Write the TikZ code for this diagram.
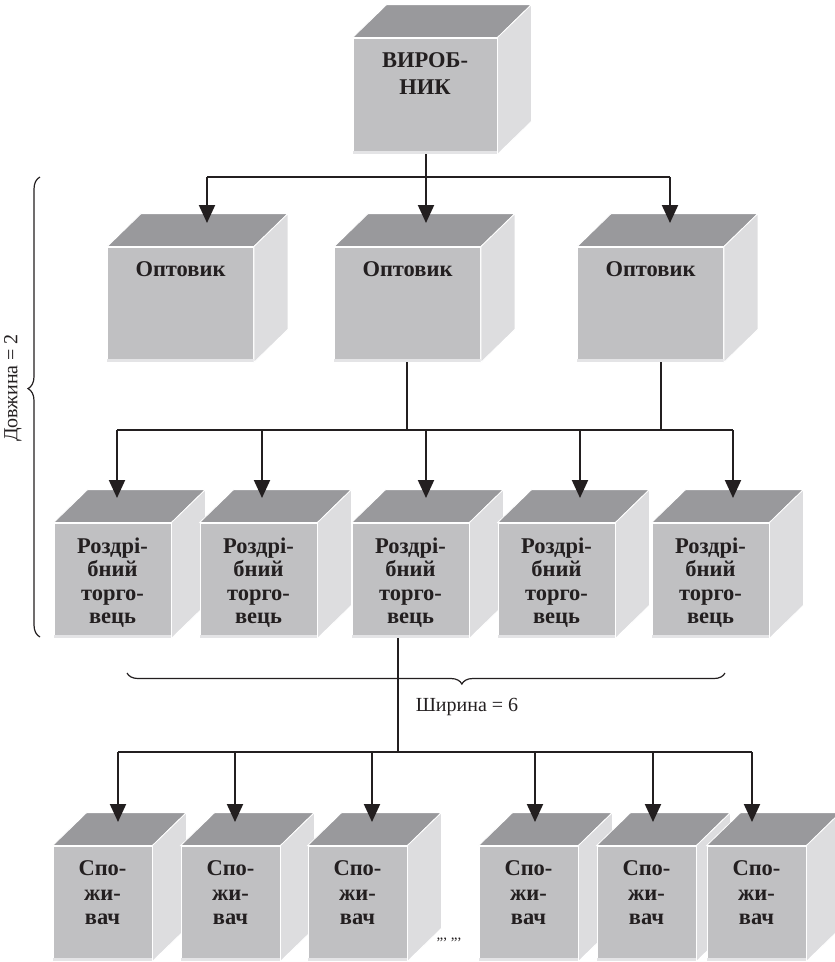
\documentclass[tikz,border=0pt]{standalone}
\usepackage{fontspec}
\setmainfont{Liberation Serif}
\usetikzlibrary{arrows.meta,calc,decorations.pathreplacing}
\definecolor{frontc}{RGB}{192,192,194}
\definecolor{topc}{RGB}{153,153,156}
\definecolor{sidec}{RGB}{221,221,223}
\definecolor{edgec}{RGB}{228,228,230}
\definecolor{inkc}{RGB}{35,31,32}
\tikzset{
  front/.style={rectangle, fill=frontc, draw=white, line width=0.8pt, inner sep=0pt},
  topface/.style={fill=topc, draw=white, line width=0.8pt},
  sideface/.style={fill=sidec, draw=white, line width=0.8pt},
  lbl/.style={font=\fontsize{22.5}{23.5}\selectfont\bfseries, align=center, anchor=north, inner sep=0pt, text=inkc},
  lblc/.style={lbl, font=\fontsize{22.5}{24.5}\selectfont\bfseries},
  lblp/.style={lbl, font=\fontsize{22.5}{27}\selectfont\bfseries},
  arr/.style={draw=inkc, line width=2pt, -{Triangle[length=18pt,width=16pt]}},
  ln/.style={draw=inkc, line width=1.6pt},
  bracestyle/.style={draw=inkc, line width=1.2pt, decorate},
  note/.style={font=\fontsize{20}{24}\selectfont, text=inkc, inner sep=0pt},
  optbox/.style={front, minimum width=146pt, minimum height=115pt},
  retbox/.style={front, minimum width=117pt, minimum height=115pt},
  conbox/.style={front, minimum width=99pt, minimum height=115pt}
}
\newcommand{\cubeparts}[1]{%
  \fill[edgec] ($(#1.south west)+(0,-3)$) rectangle (#1.south east);
  \filldraw[topface] (#1.north west) -- ($(#1.north west)+(34,-33)$) -- ($(#1.north east)+(34,-33)$) -- (#1.north east) -- cycle;
  \filldraw[sideface] (#1.north east) -- ($(#1.north east)+(34,-33)$) -- ($(#1.south east)+(34,-33)$) -- (#1.south east) -- cycle;
}
\begin{document}
\begin{tikzpicture}[x=1pt,y=-1pt]
\useasboundingbox (0,0) rectangle (835,962);

% producer
\node[front, minimum width=144pt, minimum height=116pt] (p) at (425,96) {};
\cubeparts{p}
\node[lblp] (pt) at ($(p.north)+(0,15)$) {ВИРОБ-\\НИК};

% wholesalers
\node[optbox] (o1) at (180.5,304.5) {}; \cubeparts{o1}
\node[optbox] (o2) at (407.5,304.5) {}; \cubeparts{o2}
\node[optbox] (o3) at (650.5,304.5) {}; \cubeparts{o3}
\node[lbl] (o1t) at ($(o1.north)+(0,15)$) {Оптовик};
\node[lbl] (o2t) at ($(o2.north)+(0,15)$) {Оптовик};
\node[lbl] (o3t) at ($(o3.north)+(0,15)$) {Оптовик};

% retailers
\node[retbox] (r1) at (112.5,580.5) {}; \cubeparts{r1}
\node[retbox] (r2) at (258.5,580.5) {}; \cubeparts{r2}
\node[retbox] (r3) at (410.5,580.5) {}; \cubeparts{r3}
\node[retbox] (r4) at (556.5,580.5) {}; \cubeparts{r4}
\node[retbox] (r5) at (710.5,580.5) {}; \cubeparts{r5}
\node[lbl] (r1t) at ($(r1.north)+(0,15)$) {Роздрі-\\бний\\торго-\\вець};
\node[lbl] (r2t) at ($(r2.north)+(0,15)$) {Роздрі-\\бний\\торго-\\вець};
\node[lbl] (r3t) at ($(r3.north)+(0,15)$) {Роздрі-\\бний\\торго-\\вець};
\node[lbl] (r4t) at ($(r4.north)+(0,15)$) {Роздрі-\\бний\\торго-\\вець};
\node[lbl] (r5t) at ($(r5.north)+(0,15)$) {Роздрі-\\бний\\торго-\\вець};

% consumers
\node[conbox] (c1) at (102.5,903.5) {}; \cubeparts{c1}
\node[conbox] (c2) at (230.5,903.5) {}; \cubeparts{c2}
\node[conbox] (c3) at (357.5,903.5) {}; \cubeparts{c3}
\node[conbox] (c4) at (528.5,903.5) {}; \cubeparts{c4}
\node[conbox] (c5) at (646.5,903.5) {}; \cubeparts{c5}
\node[conbox] (c6) at (756.5,903.5) {}; \cubeparts{c6}
\node[lblc] (c1t) at ($(c1.north)+(0,15)$) {Спо-\\жи-\\вач};
\node[lblc] (c2t) at ($(c2.north)+(0,15)$) {Спо-\\жи-\\вач};
\node[lblc] (c3t) at ($(c3.north)+(0,15)$) {Спо-\\жи-\\вач};
\node[lblc] (c4t) at ($(c4.north)+(0,15)$) {Спо-\\жи-\\вач};
\node[lblc] (c5t) at ($(c5.north)+(0,15)$) {Спо-\\жи-\\вач};
\node[lblc] (c6t) at ($(c6.north)+(0,15)$) {Спо-\\жи-\\вач};
\node[font=\fontsize{15}{16}\selectfont, text=inkc, inner sep=0pt] (dots) at (449,940) {,,,\ ,,,};

% level 1 connectors
\coordinate (h1a) at (207,177);
\coordinate (h1b) at (670,177);
\coordinate (o1tip) at (207,223);
\coordinate (o2tip) at (426,223);
\coordinate (o3tip) at (670,223);
\draw[ln] (h1a) -- (h1b);
\draw[arr] (o2tip |- p.south) -- (o2tip);
\draw[arr] (h1a) -- (o1tip);
\draw[arr] (h1b) -- (o3tip);

% level 2 connectors
\coordinate (h2a) at (117,430);
\coordinate (h2b) at (733,430);
\coordinate (o2s) at ($(o2.south)+(-0.5,0)$);
\coordinate (o3s) at ($(o3.south)+(10.5,0)$);
\draw[ln] (h2a) -- (h2b);
\draw[ln] (o2s) -- (o2s |- h2a);
\draw[ln] (o3s) -- (o3s |- h2a);
\foreach \xx/\nm in {117/ra,262/rb,426/rc,580/rd,733/re}{
  \coordinate (\nm top) at (\xx,430);
  \coordinate (\nm tip) at (\xx,498);
  \draw[arr] (\nm top) -- (\nm tip);
}

% level 3 connectors
\coordinate (h3a) at (118,752);
\coordinate (h3b) at (752,752);
\coordinate (r3s) at ($(r3.south)+(-12.5,0)$);
\draw[ln] (h3a) -- (h3b);
\draw[ln] (r3s) -- (r3s |- h3a);
\foreach \xx/\nm in {118/ca,235/cb,372/cc,535/cd,653/ce,752/cf}{
  \coordinate (\nm top) at (\xx,752);
  \coordinate (\nm tip) at (\xx,822);
  \draw[arr] (\nm top) -- (\nm tip);
}

% braces
\coordinate (lbA) at (40,637);
\coordinate (lbB) at (40,177);
\draw[bracestyle, decoration={brace, amplitude=12pt, aspect=0.54}] (lbA) -- (lbB);
\node[note, rotate=90] (len) at (13,388) {Довжина = 2};
\coordinate (bbA) at (127,673);
\coordinate (bbB) at (725,673);
\draw[bracestyle, decoration={brace, amplitude=11pt, aspect=0.56, mirror}] (bbA) -- (bbB);
\node[note] (wid) at (467,707) {Ширина = 6};
\end{tikzpicture}
\end{document}
